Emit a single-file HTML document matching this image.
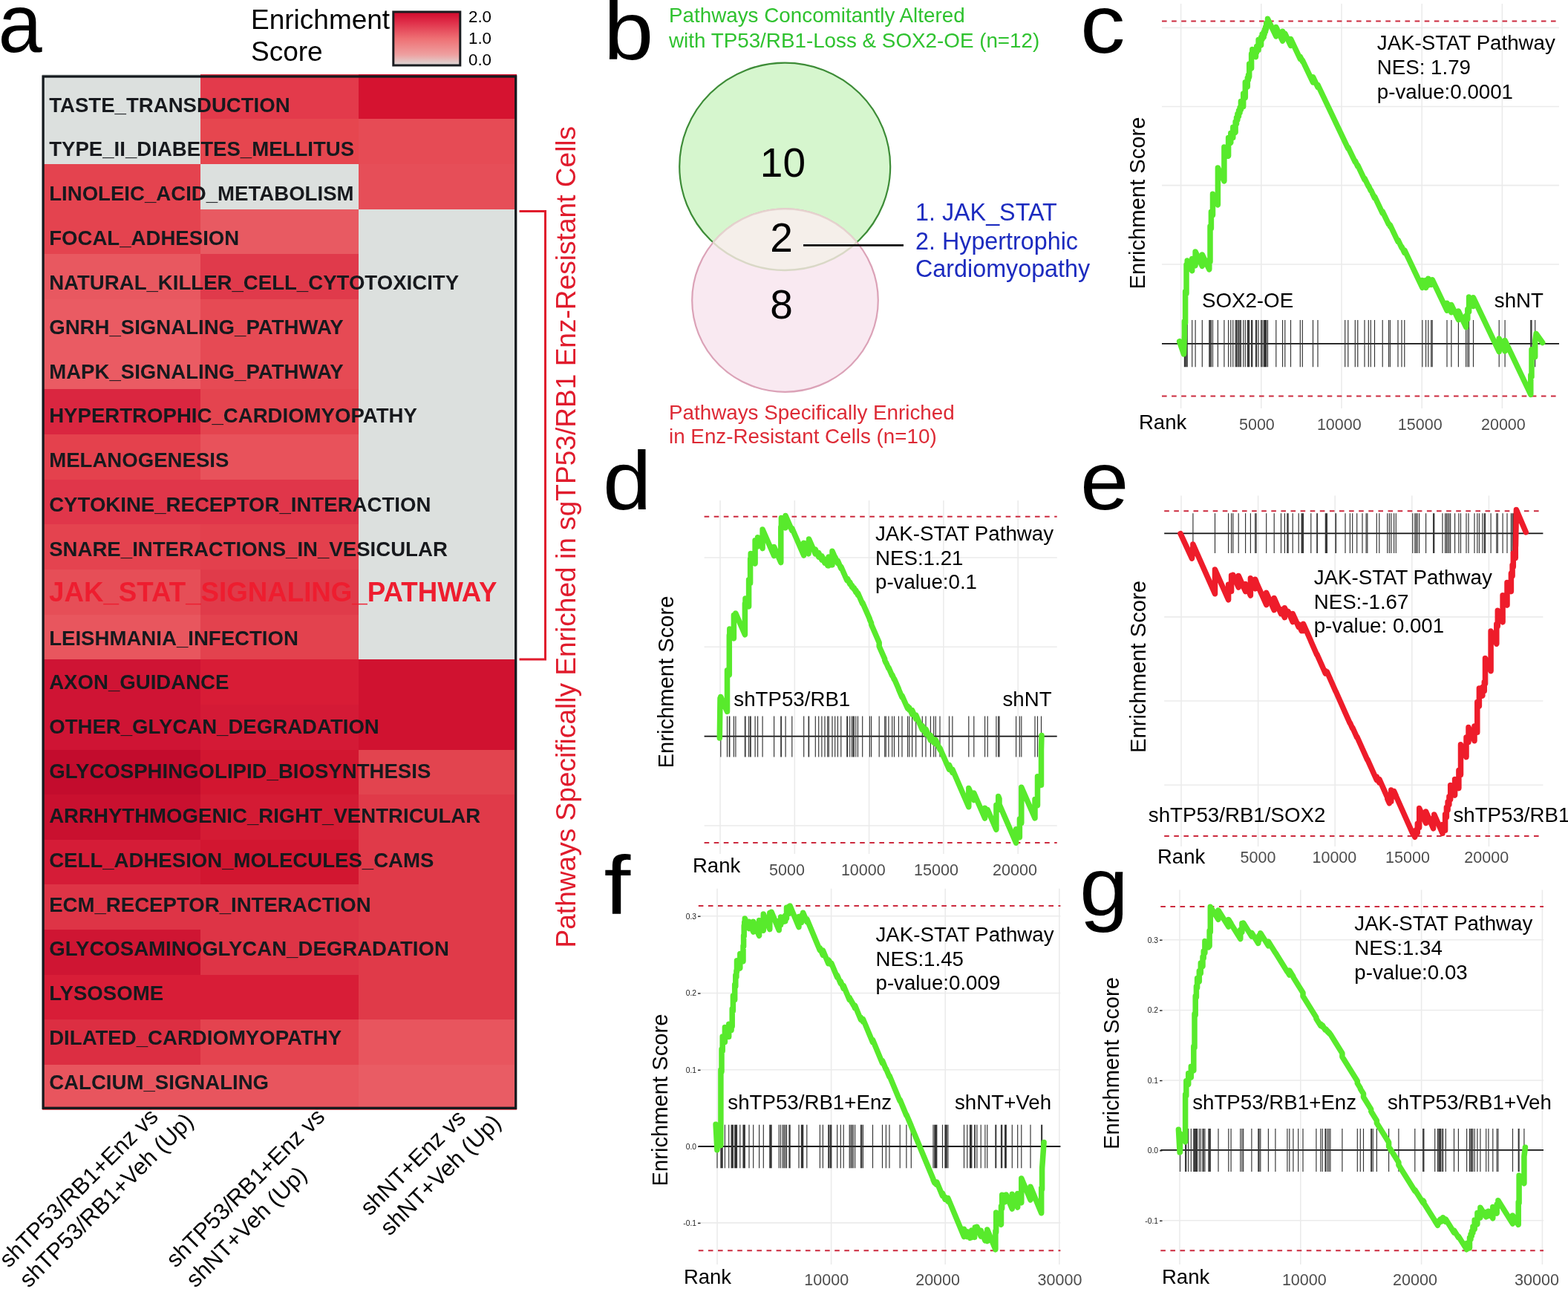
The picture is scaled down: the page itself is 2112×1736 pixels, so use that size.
<!DOCTYPE html>
<html><head><meta charset="utf-8"><title>Figure</title>
<style>
html,body{margin:0;padding:0;background:#fff;overflow:hidden;}
svg{display:block;}
text{font-family:'Liberation Sans', Arial, Helvetica, sans-serif;}
</style></head><body>
<svg width="2112" height="1736" viewBox="0 0 2112 1736">
<rect x="0" y="0" width="2112" height="1736" fill="#ffffff"/>

<g shape-rendering="crispEdges">
<rect x="57.0" y="99.60" width="213.4" height="61.26" fill="#dce0de"/>
<rect x="269.8" y="99.60" width="213.7" height="61.26" fill="#e33a4b"/>
<rect x="482.9" y="99.60" width="213.2" height="61.26" fill="#d51330"/>
<rect x="57.0" y="160.26" width="213.4" height="61.26" fill="#dce0de"/>
<rect x="269.8" y="160.26" width="213.7" height="61.26" fill="#e6464f"/>
<rect x="482.9" y="160.26" width="213.2" height="61.26" fill="#e64b55"/>
<rect x="57.0" y="220.92" width="213.4" height="61.26" fill="#e4434f"/>
<rect x="269.8" y="220.92" width="213.7" height="61.26" fill="#dce0de"/>
<rect x="482.9" y="220.92" width="213.2" height="61.26" fill="#e64e58"/>
<rect x="57.0" y="281.58" width="213.4" height="61.26" fill="#e4434f"/>
<rect x="269.8" y="281.58" width="213.7" height="61.26" fill="#e85a62"/>
<rect x="482.9" y="281.58" width="213.2" height="61.26" fill="#dce0de"/>
<rect x="57.0" y="342.24" width="213.4" height="61.26" fill="#e85860"/>
<rect x="269.8" y="342.24" width="213.7" height="61.26" fill="#e03a4b"/>
<rect x="482.9" y="342.24" width="213.2" height="61.26" fill="#dce0de"/>
<rect x="57.0" y="402.90" width="213.4" height="61.26" fill="#ea5b63"/>
<rect x="269.8" y="402.90" width="213.7" height="61.26" fill="#e64a54"/>
<rect x="482.9" y="402.90" width="213.2" height="61.26" fill="#dce0de"/>
<rect x="57.0" y="463.56" width="213.4" height="61.26" fill="#ea5b63"/>
<rect x="269.8" y="463.56" width="213.7" height="61.26" fill="#e64a54"/>
<rect x="482.9" y="463.56" width="213.2" height="61.26" fill="#dce0de"/>
<rect x="57.0" y="524.22" width="213.4" height="61.26" fill="#da2640"/>
<rect x="269.8" y="524.22" width="213.7" height="61.26" fill="#e4444f"/>
<rect x="482.9" y="524.22" width="213.2" height="61.26" fill="#dce0de"/>
<rect x="57.0" y="584.88" width="213.4" height="61.26" fill="#e4414d"/>
<rect x="269.8" y="584.88" width="213.7" height="61.26" fill="#e8525b"/>
<rect x="482.9" y="584.88" width="213.2" height="61.26" fill="#dce0de"/>
<rect x="57.0" y="645.54" width="213.4" height="61.26" fill="#e0364a"/>
<rect x="269.8" y="645.54" width="213.7" height="61.26" fill="#e0364a"/>
<rect x="482.9" y="645.54" width="213.2" height="61.26" fill="#dce0de"/>
<rect x="57.0" y="706.20" width="213.4" height="61.26" fill="#e4434f"/>
<rect x="269.8" y="706.20" width="213.7" height="61.26" fill="#e3404d"/>
<rect x="482.9" y="706.20" width="213.2" height="61.26" fill="#dce0de"/>
<rect x="57.0" y="766.86" width="213.4" height="61.26" fill="#e64e57"/>
<rect x="269.8" y="766.86" width="213.7" height="61.26" fill="#e03b4a"/>
<rect x="482.9" y="766.86" width="213.2" height="61.26" fill="#dce0de"/>
<rect x="57.0" y="827.52" width="213.4" height="61.26" fill="#e8565e"/>
<rect x="269.8" y="827.52" width="213.7" height="61.26" fill="#e3424e"/>
<rect x="482.9" y="827.52" width="213.2" height="61.26" fill="#dce0de"/>
<rect x="57.0" y="888.18" width="213.4" height="61.26" fill="#cf1434"/>
<rect x="269.8" y="888.18" width="213.7" height="61.26" fill="#d81c36"/>
<rect x="482.9" y="888.18" width="213.2" height="61.26" fill="#d01230"/>
<rect x="57.0" y="948.84" width="213.4" height="61.26" fill="#cf1434"/>
<rect x="269.8" y="948.84" width="213.7" height="61.26" fill="#d41a36"/>
<rect x="482.9" y="948.84" width="213.2" height="61.26" fill="#d01230"/>
<rect x="57.0" y="1009.50" width="213.4" height="61.26" fill="#c30c2d"/>
<rect x="269.8" y="1009.50" width="213.7" height="61.26" fill="#d21630"/>
<rect x="482.9" y="1009.50" width="213.2" height="61.26" fill="#e2444f"/>
<rect x="57.0" y="1070.16" width="213.4" height="61.26" fill="#c9102f"/>
<rect x="269.8" y="1070.16" width="213.7" height="61.26" fill="#d41b34"/>
<rect x="482.9" y="1070.16" width="213.2" height="61.26" fill="#e03a49"/>
<rect x="57.0" y="1130.82" width="213.4" height="61.26" fill="#d51c37"/>
<rect x="269.8" y="1130.82" width="213.7" height="61.26" fill="#d21630"/>
<rect x="482.9" y="1130.82" width="213.2" height="61.26" fill="#e03a49"/>
<rect x="57.0" y="1191.48" width="213.4" height="61.26" fill="#de3446"/>
<rect x="269.8" y="1191.48" width="213.7" height="61.26" fill="#de3446"/>
<rect x="482.9" y="1191.48" width="213.2" height="61.26" fill="#e03a49"/>
<rect x="57.0" y="1252.14" width="213.4" height="61.26" fill="#cf1533"/>
<rect x="269.8" y="1252.14" width="213.7" height="61.26" fill="#de3446"/>
<rect x="482.9" y="1252.14" width="213.2" height="61.26" fill="#e03a49"/>
<rect x="57.0" y="1312.80" width="213.4" height="61.26" fill="#d81d37"/>
<rect x="269.8" y="1312.80" width="213.7" height="61.26" fill="#d81d37"/>
<rect x="482.9" y="1312.80" width="213.2" height="61.26" fill="#e03a49"/>
<rect x="57.0" y="1373.46" width="213.4" height="61.26" fill="#dc2e42"/>
<rect x="269.8" y="1373.46" width="213.7" height="61.26" fill="#e4434f"/>
<rect x="482.9" y="1373.46" width="213.2" height="61.26" fill="#e8555e"/>
<rect x="57.0" y="1434.12" width="213.4" height="61.26" fill="#e8555e"/>
<rect x="269.8" y="1434.12" width="213.7" height="61.26" fill="#e8555e"/>
<rect x="482.9" y="1434.12" width="213.2" height="61.26" fill="#e95c64"/>
</g>
<rect x="58.1" y="103.0" width="636.6" height="1389.3" fill="none" stroke="#151a1e" stroke-width="3.3"/>
<text x="66.2" y="150.6" font-size="27.6" font-weight="bold" fill="#17191d">TASTE_TRANSDUCTION</text>
<text x="66.2" y="210.4" font-size="27.6" font-weight="bold" fill="#17191d">TYPE_II_DIABETES_MELLITUS</text>
<text x="66.2" y="270.3" font-size="27.6" font-weight="bold" fill="#17191d">LINOLEIC_ACID_METABOLISM</text>
<text x="66.2" y="330.1" font-size="27.6" font-weight="bold" fill="#17191d">FOCAL_ADHESION</text>
<text x="66.2" y="389.9" font-size="27.6" font-weight="bold" fill="#17191d">NATURAL_KILLER_CELL_CYTOTOXICITY</text>
<text x="66.2" y="449.8" font-size="27.6" font-weight="bold" fill="#17191d">GNRH_SIGNALING_PATHWAY</text>
<text x="66.2" y="509.6" font-size="27.6" font-weight="bold" fill="#17191d">MAPK_SIGNALING_PATHWAY</text>
<text x="66.2" y="569.4" font-size="27.6" font-weight="bold" fill="#17191d">HYPERTROPHIC_CARDIOMYOPATHY</text>
<text x="66.2" y="629.2" font-size="27.6" font-weight="bold" fill="#17191d">MELANOGENESIS</text>
<text x="66.2" y="689.1" font-size="27.6" font-weight="bold" fill="#17191d">CYTOKINE_RECEPTOR_INTERACTION</text>
<text x="66.2" y="748.9" font-size="27.6" font-weight="bold" fill="#17191d">SNARE_INTERACTIONS_IN_VESICULAR</text>
<text x="66" y="809.7" font-size="36.7" font-weight="bold" fill="#ee1d2f">JAK_STAT_SIGNALING_PATHWAY</text>
<text x="66.2" y="868.6" font-size="27.6" font-weight="bold" fill="#17191d">LEISHMANIA_INFECTION</text>
<text x="66.2" y="928.4" font-size="27.6" font-weight="bold" fill="#17191d">AXON_GUIDANCE</text>
<text x="66.2" y="988.2" font-size="27.6" font-weight="bold" fill="#17191d">OTHER_GLYCAN_DEGRADATION</text>
<text x="66.2" y="1048.0" font-size="27.6" font-weight="bold" fill="#17191d">GLYCOSPHINGOLIPID_BIOSYNTHESIS</text>
<text x="66.2" y="1107.9" font-size="27.6" font-weight="bold" fill="#17191d">ARRHYTHMOGENIC_RIGHT_VENTRICULAR</text>
<text x="66.2" y="1167.7" font-size="27.6" font-weight="bold" fill="#17191d">CELL_ADHESION_MOLECULES_CAMS</text>
<text x="66.2" y="1227.5" font-size="27.6" font-weight="bold" fill="#17191d">ECM_RECEPTOR_INTERACTION</text>
<text x="66.2" y="1287.4" font-size="27.6" font-weight="bold" fill="#17191d">GLYCOSAMINOGLYCAN_DEGRADATION</text>
<text x="66.2" y="1347.2" font-size="27.6" font-weight="bold" fill="#17191d">LYSOSOME</text>
<text x="66.2" y="1407.0" font-size="27.6" font-weight="bold" fill="#17191d">DILATED_CARDIOMYOPATHY</text>
<text x="66.2" y="1466.9" font-size="27.6" font-weight="bold" fill="#17191d">CALCIUM_SIGNALING</text>
<defs><linearGradient id="lg" x1="0" y1="0" x2="0" y2="1">
<stop offset="0" stop-color="#d0092c"/><stop offset="0.2" stop-color="#e0304a"/><stop offset="0.5" stop-color="#ee7074"/>
<stop offset="0.8" stop-color="#eea0a0"/><stop offset="1" stop-color="#dcdad8"/></linearGradient></defs>
<rect x="529.8" y="16" width="90" height="72" fill="url(#lg)" stroke="#1a1c20" stroke-width="3"/>
<text x="338" y="38.6" font-size="37" fill="#000">Enrichment</text>
<text x="338" y="81.6" font-size="37" fill="#000">Score</text>
<text x="631" y="29.8" font-size="22" fill="#000" textLength="31" lengthAdjust="spacingAndGlyphs">2.0</text>
<text x="631" y="58.8" font-size="22" fill="#000" textLength="31" lengthAdjust="spacingAndGlyphs">1.0</text>
<text x="631" y="87.8" font-size="22" fill="#000" textLength="31" lengthAdjust="spacingAndGlyphs">0.0</text>
<text transform="translate(-2.5,70) scale(0.95,1)" x="0" y="0" font-size="112" fill="#000">a</text>
<text transform="translate(813,80) scale(1.08,1)" x="0" y="0" font-size="112" fill="#000">b</text>
<text transform="translate(1455,70.5) scale(1.08,1)" x="0" y="0" font-size="112" fill="#000">c</text>
<text transform="translate(812,686) scale(1.05,1)" x="0" y="0" font-size="112" fill="#000">d</text>
<text transform="translate(1455,686) scale(1.05,1)" x="0" y="0" font-size="112" fill="#000">e</text>
<text transform="translate(813.5,1231) scale(1.15,1)" x="0" y="0" font-size="112" fill="#000">f</text>
<text transform="translate(1454,1233) scale(1.06,1)" x="0" y="0" font-size="112" fill="#000">g</text>
<g transform="translate(11.8,1708.6) rotate(-45)"><text x="0" y="0" font-size="31" fill="#000">shTP53/RB1+Enz vs</text><text x="0" y="38" font-size="31" fill="#000">shTP53/RB1+Veh (Up)</text></g>
<g transform="translate(236.4,1708.6) rotate(-45)"><text x="0" y="0" font-size="31" fill="#000">shTP53/RB1+Enz vs</text><text x="0" y="38" font-size="31" fill="#000">shNT+Veh (Up)</text></g>
<g transform="translate(497.9,1638.6) rotate(-45)"><text x="0" y="0" font-size="31" fill="#000">shNT+Enz vs</text><text x="0" y="38" font-size="31" fill="#000">shNT+Veh (Up)</text></g>
<path d="M699.5 284.5 H734.5 V888 H699.5" fill="none" stroke="#e01b2c" stroke-width="3"/>
<text transform="translate(774.5,1276.5) rotate(-90)" x="0" y="0" font-size="37.1" fill="#e01b2c">Pathways Specifically Enriched in sgTP53/RB1 Enz-Resistant Cells</text>
<defs><clipPath id="cg"><ellipse cx="1057.2" cy="224.3" rx="142" ry="139.7"/></clipPath></defs>
<ellipse cx="1057.2" cy="224.3" rx="142" ry="139.7" fill="#d6f6ce" stroke="#3d8c37" stroke-width="2.2"/>
<ellipse cx="1057.5" cy="404.6" rx="125.3" ry="123.2" fill="#f9e9f1" stroke="#dba2b7" stroke-width="2.2"/>
<ellipse cx="1057.5" cy="404.6" rx="125.3" ry="123.2" fill="#f5efea" clip-path="url(#cg)"/>
<ellipse cx="1057.5" cy="404.6" rx="125.3" ry="123.2" fill="none" stroke="#e6d2cf" stroke-width="2.2" clip-path="url(#cg)"/>
<defs><clipPath id="cp"><ellipse cx="1057.5" cy="404.6" rx="125.3" ry="123.2"/></clipPath></defs>
<ellipse cx="1057.2" cy="224.3" rx="142" ry="139.7" fill="none" stroke="#d9d8c6" stroke-width="2.4" clip-path="url(#cp)"/>
<text x="1054.4" y="237.5" font-size="55" fill="#000" text-anchor="middle">10</text>
<text x="1052.5" y="338.6" font-size="55" fill="#000" text-anchor="middle">2</text>
<text x="1052.5" y="428.6" font-size="55" fill="#000" text-anchor="middle">8</text>
<line x1="1082" y1="330.4" x2="1217" y2="330.4" stroke="#111" stroke-width="2.6"/>
<text x="1233" y="297.1" font-size="32.3" fill="#1c2bbf">1. JAK_STAT</text>
<text x="1233" y="335.7" font-size="32.3" fill="#1c2bbf">2. Hypertrophic</text>
<text x="1233" y="373" font-size="32.3" fill="#1c2bbf">Cardiomyopathy</text>
<text x="901" y="30.4" font-size="27.8" fill="#2fc22f">Pathways Concomitantly Altered</text>
<text x="901" y="64.3" font-size="27.8" fill="#2fc22f">with TP53/RB1-Loss &amp; SOX2-OE (n=12)</text>
<text x="901" y="565" font-size="27.8" fill="#dd2a35">Pathways Specifically Enriched</text>
<text x="901" y="597" font-size="27.8" fill="#dd2a35">in Enz-Resistant Cells (n=10)</text>
<line x1="1590.6" y1="5" x2="1590.6" y2="550" stroke="#ebebeb" stroke-width="1.6"/>
<line x1="1698.8" y1="5" x2="1698.8" y2="550" stroke="#ebebeb" stroke-width="1.6"/>
<line x1="1807.0" y1="5" x2="1807.0" y2="550" stroke="#ebebeb" stroke-width="1.6"/>
<line x1="1915.2" y1="5" x2="1915.2" y2="550" stroke="#ebebeb" stroke-width="1.6"/>
<line x1="2023.4" y1="5" x2="2023.4" y2="550" stroke="#ebebeb" stroke-width="1.6"/>
<line x1="1565" y1="37.4" x2="2100" y2="37.4" stroke="#ebebeb" stroke-width="1.6"/>
<line x1="1565" y1="143.5" x2="2100" y2="143.5" stroke="#ebebeb" stroke-width="1.6"/>
<line x1="1565" y1="249.6" x2="2100" y2="249.6" stroke="#ebebeb" stroke-width="1.6"/>
<line x1="1565" y1="356.0" x2="2100" y2="356.0" stroke="#ebebeb" stroke-width="1.6"/>
<line x1="1565" y1="28.6" x2="2100" y2="28.6" stroke="#cc2a3e" stroke-width="2" stroke-dasharray="6.6 6.5"/>
<line x1="1565" y1="533.4" x2="2100" y2="533.4" stroke="#cc2a3e" stroke-width="2" stroke-dasharray="6.6 6.5"/>
<line x1="1565" y1="462.9" x2="2100" y2="462.9" stroke="#111" stroke-width="1.8"/>
<path d="M1595.4 430.9V494.2M1596.6 430.9V494.2M1598.0 430.9V494.2M1599.2 430.9V494.2M1605.7 430.9V494.2M1610.1 430.9V494.2M1619.3 430.9V494.2M1628.8 430.9V494.2M1630.0 430.9V494.2M1631.4 430.9V494.2M1633.5 430.9V494.2M1640.4 430.9V494.2M1648.9 430.9V494.2M1654.6 430.9V494.2M1657.8 430.9V494.2M1660.8 430.9V494.2M1664.1 430.9V494.2M1665.5 430.9V494.2M1666.9 430.9V494.2M1668.5 430.9V494.2M1670.0 430.9V494.2M1671.4 430.9V494.2M1674.7 430.9V494.2M1677.3 430.9V494.2M1680.3 430.9V494.2M1681.5 430.9V494.2M1682.7 430.9V494.2M1685.6 430.9V494.2M1686.8 430.9V494.2M1691.5 430.9V494.2M1692.7 430.9V494.2M1695.1 430.9V494.2M1698.6 430.9V494.2M1700.1 430.9V494.2M1702.2 430.9V494.2M1703.4 430.9V494.2M1704.6 430.9V494.2M1705.7 430.9V494.2M1707.5 430.9V494.2M1718.8 430.9V494.2M1727.6 430.9V494.2M1730.8 430.9V494.2M1738.5 430.9V494.2M1751.3 430.9V494.2M1754.3 430.9V494.2M1768.5 430.9V494.2M1775.0 430.9V494.2M1811.7 430.9V494.2M1815.8 430.9V494.2M1825.3 430.9V494.2M1828.8 430.9V494.2M1838.0 430.9V494.2M1843.3 430.9V494.2M1846.3 430.9V494.2M1851.5 430.9V494.2M1862.2 430.9V494.2M1870.5 430.9V494.2M1872.4 430.9V494.2M1883.0 430.9V494.2M1888.0 430.9V494.2M1891.8 430.9V494.2M1915.8 430.9V494.2M1920.6 430.9V494.2M1923.8 430.9V494.2M1927.7 430.9V494.2M1929.2 430.9V494.2M1949.0 430.9V494.2M1954.9 430.9V494.2M1964.4 430.9V494.2M1974.6 430.9V494.2M1976.8 430.9V494.2M1978.6 430.9V494.2M1984.5 430.9V494.2M2019.2 430.9V494.2M2027.1 430.9V494.2M2061.8 430.9V494.2M2063.0 430.9V494.2M2067.7 430.9V494.2" stroke="#333" stroke-width="1.15" fill="none"/>
<path d="M1588.6 459.7 L1594.5 477.0 L1595.4 451.0 L1595.4 432.7 L1596.6 435.2 L1596.6 392.6 L1598.0 395.6 L1598.0 356.4 L1599.2 358.9 L1599.2 351.0 L1605.7 364.7 L1605.7 348.4 L1610.1 357.6 L1610.1 338.9 L1619.3 358.3 L1619.3 342.9 L1628.8 362.8 L1628.8 350.2 L1630.0 352.7 L1630.0 304.8 L1631.4 307.8 L1631.4 285.3 L1633.5 289.8 L1633.5 261.3 L1640.4 275.8 L1640.4 225.9 L1648.9 243.8 L1648.9 198.1 L1654.6 210.1 L1654.6 185.6 L1657.8 192.3 L1657.8 179.2 L1660.8 185.4 L1660.8 171.3 L1664.1 178.3 L1664.1 164.0 L1665.5 167.0 L1665.5 158.4 L1666.9 161.4 L1666.9 153.6 L1668.5 156.8 L1668.5 149.0 L1670.0 152.2 L1670.0 144.9 L1671.4 147.9 L1671.4 136.6 L1674.7 143.6 L1674.7 126.1 L1677.3 131.6 L1677.3 110.7 L1680.3 116.9 L1680.3 104.9 L1681.5 107.4 L1681.5 101.0 L1682.7 103.5 L1682.7 86.0 L1685.6 92.2 L1685.6 72.5 L1686.8 75.0 L1686.8 66.5 L1691.5 76.5 L1691.5 67.9 L1692.7 70.4 L1692.7 62.5 L1695.1 67.4 L1695.1 53.5 L1698.6 60.9 L1698.6 50.2 L1700.1 53.1 L1700.1 45.9 L1702.2 50.3 L1702.2 43.3 L1703.4 45.8 L1703.4 39.9 L1704.6 42.4 L1704.6 36.4 L1705.7 38.8 L1705.7 31.3 L1707.5 35.0 L1707.5 25.3 L1718.8 48.9 L1718.8 36.6 L1727.6 55.2 L1727.6 42.2 L1730.8 48.9 L1730.8 45.2 L1738.5 61.4 L1738.5 52.4 L1751.3 79.3 L1751.3 76.3 L1754.3 82.5 L1754.3 81.1 L1768.5 110.9 L1768.5 103.7 L1775.0 117.3 L1775.0 114.3 L1811.7 191.4 L1811.7 191.3 L1815.8 200.0 L1815.8 198.4 L1825.3 218.2 L1825.3 216.7 L1828.8 224.1 L1828.8 222.6 L1838.0 242.0 L1838.0 240.2 L1843.3 251.2 L1843.3 250.2 L1846.3 256.6 L1846.3 255.7 L1851.5 266.6 L1851.5 264.7 L1862.2 287.1 L1862.2 284.8 L1870.5 302.2 L1870.5 301.0 L1872.4 305.0 L1872.4 303.1 L1883.0 325.5 L1883.0 323.2 L1888.0 333.6 L1888.0 332.3 L1891.8 340.3 L1891.8 336.9 L1915.8 387.3 L1915.8 377.5 L1920.6 387.4 L1920.6 377.4 L1923.8 384.1 L1923.8 375.2 L1927.7 383.4 L1927.7 378.7 L1929.2 381.9 L1929.2 376.7 L1949.0 418.2 L1949.0 408.2 L1954.9 420.6 L1954.9 410.6 L1964.4 430.5 L1964.4 418.9 L1974.6 440.5 L1974.6 425.4 L1976.8 429.9 L1976.8 416.5 L1978.6 420.2 L1978.6 400.0 L1984.5 412.4 L1984.5 400.8 L2019.2 473.6 L2019.2 456.1 L2027.1 472.8 L2027.1 458.6 L2061.8 531.4 L2061.8 505.3 L2063.0 507.7 L2063.0 470.8 L2067.7 480.7 L2067.7 458.8 L2069.1 449.4 L2077.7 461.5" stroke="#58ea2c" stroke-width="7.5" fill="none" stroke-linejoin="round" stroke-linecap="round"/>
<line x1="970.0" y1="674" x2="970.0" y2="1150" stroke="#ebebeb" stroke-width="1.6"/>
<line x1="1070.3" y1="674" x2="1070.3" y2="1150" stroke="#ebebeb" stroke-width="1.6"/>
<line x1="1170.6" y1="674" x2="1170.6" y2="1150" stroke="#ebebeb" stroke-width="1.6"/>
<line x1="1270.9" y1="674" x2="1270.9" y2="1150" stroke="#ebebeb" stroke-width="1.6"/>
<line x1="1371.2" y1="674" x2="1371.2" y2="1150" stroke="#ebebeb" stroke-width="1.6"/>
<line x1="948.6" y1="751.0" x2="1423.7" y2="751.0" stroke="#ebebeb" stroke-width="1.6"/>
<line x1="948.6" y1="871.2" x2="1423.7" y2="871.2" stroke="#ebebeb" stroke-width="1.6"/>
<line x1="948.6" y1="1112.0" x2="1423.7" y2="1112.0" stroke="#ebebeb" stroke-width="1.6"/>
<line x1="948.6" y1="695.7" x2="1423.7" y2="695.7" stroke="#cc2a3e" stroke-width="2" stroke-dasharray="6.6 6.5"/>
<line x1="948.6" y1="1134.9" x2="1423.7" y2="1134.9" stroke="#cc2a3e" stroke-width="2" stroke-dasharray="6.6 6.5"/>
<line x1="948.6" y1="991.7" x2="1423.7" y2="991.7" stroke="#111" stroke-width="1.8"/>
<path d="M970.8 964.5V1019.5M979.5 964.5V1019.5M982.3 964.5V1019.5M982.8 964.5V1019.5M988.4 964.5V1019.5M990.9 964.5V1019.5M1003.4 964.5V1019.5M1004.0 964.5V1019.5M1008.6 964.5V1019.5M1010.6 964.5V1019.5M1011.2 964.5V1019.5M1017.1 964.5V1019.5M1020.6 964.5V1019.5M1027.1 964.5V1019.5M1042.6 964.5V1019.5M1051.8 964.5V1019.5M1052.4 964.5V1019.5M1058.1 964.5V1019.5M1066.8 964.5V1019.5M1082.7 964.5V1019.5M1089.1 964.5V1019.5M1089.6 964.5V1019.5M1098.3 964.5V1019.5M1102.7 964.5V1019.5M1106.9 964.5V1019.5M1111.0 964.5V1019.5M1114.7 964.5V1019.5M1116.3 964.5V1019.5M1121.0 964.5V1019.5M1124.7 964.5V1019.5M1128.4 964.5V1019.5M1132.8 964.5V1019.5M1140.8 964.5V1019.5M1141.6 964.5V1019.5M1144.7 964.5V1019.5M1147.5 964.5V1019.5M1149.2 964.5V1019.5M1150.3 964.5V1019.5M1152.8 964.5V1019.5M1155.5 964.5V1019.5M1161.7 964.5V1019.5M1171.4 964.5V1019.5M1173.6 964.5V1019.5M1184.2 964.5V1019.5M1191.7 964.5V1019.5M1193.3 964.5V1019.5M1196.9 964.5V1019.5M1201.7 964.5V1019.5M1204.5 964.5V1019.5M1210.4 964.5V1019.5M1215.0 964.5V1019.5M1222.5 964.5V1019.5M1224.7 964.5V1019.5M1228.6 964.5V1019.5M1233.7 964.5V1019.5M1242.3 964.5V1019.5M1247.0 964.5V1019.5M1253.4 964.5V1019.5M1257.7 964.5V1019.5M1260.3 964.5V1019.5M1266.0 964.5V1019.5M1278.5 964.5V1019.5M1282.9 964.5V1019.5M1304.8 964.5V1019.5M1311.8 964.5V1019.5M1326.6 964.5V1019.5M1330.2 964.5V1019.5M1341.9 964.5V1019.5M1344.7 964.5V1019.5M1346.0 964.5V1019.5M1368.6 964.5V1019.5M1373.4 964.5V1019.5M1375.8 964.5V1019.5M1394.0 964.5V1019.5M1397.5 964.5V1019.5M1402.5 964.5V1019.5" stroke="#333" stroke-width="1.15" fill="none"/>
<path d="M969.3 993.9 L970.0 940.4 L970.8 941.9 L970.8 938.5 L979.5 958.4 L979.5 902.7 L982.3 909.1 L982.3 855.4 L982.8 856.7 L982.8 847.0 L988.4 859.8 L988.4 828.4 L990.9 834.3 L990.9 826.1 L1003.4 854.8 L1003.4 812.7 L1004.0 814.0 L1004.0 806.1 L1008.6 816.9 L1008.6 780.8 L1010.6 785.4 L1010.6 752.8 L1011.2 754.1 L1011.2 745.5 L1017.1 759.1 L1017.1 727.8 L1020.6 736.0 L1020.6 723.7 L1027.1 738.5 L1027.1 713.0 L1042.6 748.6 L1042.6 736.4 L1051.8 757.6 L1051.8 709.7 L1052.4 711.0 L1052.4 697.6 L1058.1 710.9 L1058.1 694.4 L1066.8 714.4 L1066.8 711.4 L1082.7 748.0 L1082.7 731.2 L1089.1 745.8 L1089.1 729.2 L1089.6 730.4 L1089.6 725.9 L1098.3 745.9 L1098.3 740.0 L1102.7 750.0 L1102.7 744.4 L1106.9 754.1 L1106.9 748.7 L1111.0 758.2 L1111.0 753.1 L1114.7 761.6 L1114.7 758.1 L1116.3 761.9 L1116.3 750.1 L1121.0 760.9 L1121.0 742.3 L1124.7 750.7 L1124.7 750.1 L1128.4 758.5 L1128.4 755.2 L1132.8 765.5 L1132.8 763.2 L1140.8 781.6 L1140.8 779.2 L1141.6 781.0 L1141.6 779.4 L1144.7 786.6 L1144.7 784.1 L1147.5 790.5 L1147.5 788.4 L1149.2 792.2 L1149.2 790.9 L1150.3 793.4 L1150.3 791.7 L1152.8 797.6 L1152.8 795.0 L1155.5 801.2 L1155.5 798.7 L1161.7 813.0 L1161.7 811.4 L1171.4 833.6 L1171.4 834.2 L1173.6 839.3 L1173.6 841.1 L1184.2 865.4 L1184.2 870.5 L1191.7 887.6 L1191.7 889.0 L1193.3 892.8 L1193.3 892.0 L1196.9 900.2 L1196.9 899.0 L1201.7 910.0 L1201.7 908.8 L1204.5 915.2 L1204.5 914.3 L1210.4 927.8 L1210.4 928.3 L1215.0 939.1 L1215.0 936.9 L1222.5 954.1 L1222.5 951.0 L1224.7 956.1 L1224.7 953.1 L1228.6 962.0 L1228.6 956.4 L1233.7 968.2 L1233.7 963.1 L1242.3 982.8 L1242.3 977.5 L1247.0 988.3 L1247.0 982.0 L1253.4 996.9 L1253.4 990.2 L1257.7 999.9 L1257.7 995.5 L1260.3 1001.7 L1260.3 996.4 L1266.0 1009.5 L1266.0 1007.6 L1278.5 1036.3 L1278.5 1030.3 L1282.9 1040.5 L1282.9 1036.2 L1304.8 1086.7 L1304.8 1061.4 L1311.8 1077.6 L1311.8 1068.1 L1326.6 1102.1 L1326.6 1088.2 L1330.2 1096.4 L1330.2 1090.5 L1341.9 1117.3 L1341.9 1084.2 L1344.7 1090.6 L1344.7 1072.5 L1346.0 1075.6 L1346.0 1083.2 L1368.6 1135.2 L1368.6 1116.7 L1373.4 1127.7 L1373.4 1102.9 L1375.8 1108.5 L1375.8 1060.2 L1394.0 1101.9 L1394.0 1076.5 L1397.5 1084.7 L1397.5 1045.8 L1402.5 1057.4 L1402.5 1009.9 L1403.0 990.5" stroke="#58ea2c" stroke-width="7.5" fill="none" stroke-linejoin="round" stroke-linecap="round"/>
<line x1="1591.0" y1="667.4" x2="1591.0" y2="1140" stroke="#ebebeb" stroke-width="1.6"/>
<line x1="1694.6" y1="667.4" x2="1694.6" y2="1140" stroke="#ebebeb" stroke-width="1.6"/>
<line x1="1798.2" y1="667.4" x2="1798.2" y2="1140" stroke="#ebebeb" stroke-width="1.6"/>
<line x1="1901.8" y1="667.4" x2="1901.8" y2="1140" stroke="#ebebeb" stroke-width="1.6"/>
<line x1="2005.4" y1="667.4" x2="2005.4" y2="1140" stroke="#ebebeb" stroke-width="1.6"/>
<line x1="1568.2" y1="830.9" x2="2078.4" y2="830.9" stroke="#ebebeb" stroke-width="1.6"/>
<line x1="1568.2" y1="944.0" x2="2078.4" y2="944.0" stroke="#ebebeb" stroke-width="1.6"/>
<line x1="1568.2" y1="1057.3" x2="2078.4" y2="1057.3" stroke="#ebebeb" stroke-width="1.6"/>
<line x1="1568.2" y1="688.3" x2="2078.4" y2="688.3" stroke="#cc2a3e" stroke-width="2" stroke-dasharray="6.6 6.5"/>
<line x1="1568.2" y1="1126.0" x2="2078.4" y2="1126.0" stroke="#cc2a3e" stroke-width="2" stroke-dasharray="6.6 6.5"/>
<line x1="1568.2" y1="718.3" x2="2078.4" y2="718.3" stroke="#111" stroke-width="1.8"/>
<path d="M1606.9 691.2V745.1M1636.5 691.2V745.1M1654.6 691.2V745.1M1658.6 691.2V745.1M1660.8 691.2V745.1M1668.2 691.2V745.1M1677.6 691.2V745.1M1684.4 691.2V745.1M1690.7 691.2V745.1M1692.1 691.2V745.1M1705.7 691.2V745.1M1716.2 691.2V745.1M1725.5 691.2V745.1M1730.4 691.2V745.1M1733.9 691.2V745.1M1735.1 691.2V745.1M1741.2 691.2V745.1M1749.2 691.2V745.1M1753.1 691.2V745.1M1754.3 691.2V745.1M1755.5 691.2V745.1M1765.8 691.2V745.1M1773.8 691.2V745.1M1774.4 691.2V745.1M1785.3 691.2V745.1M1786.2 691.2V745.1M1787.4 691.2V745.1M1799.0 691.2V745.1M1799.5 691.2V745.1M1812.0 691.2V745.1M1818.4 691.2V745.1M1821.7 691.2V745.1M1827.7 691.2V745.1M1835.0 691.2V745.1M1840.1 691.2V745.1M1841.8 691.2V745.1M1854.3 691.2V745.1M1857.8 691.2V745.1M1868.8 691.2V745.1M1871.4 691.2V745.1M1873.8 691.2V745.1M1877.6 691.2V745.1M1880.3 691.2V745.1M1902.8 691.2V745.1M1905.8 691.2V745.1M1907.5 691.2V745.1M1909.3 691.2V745.1M1911.7 691.2V745.1M1920.6 691.2V745.1M1930.6 691.2V745.1M1931.8 691.2V745.1M1943.0 691.2V745.1M1946.6 691.2V745.1M1948.4 691.2V745.1M1950.1 691.2V745.1M1951.9 691.2V745.1M1953.7 691.2V745.1M1959.6 691.2V745.1M1964.9 691.2V745.1M1967.5 691.2V745.1M1975.0 691.2V745.1M1978.0 691.2V745.1M1986.0 691.2V745.1M1989.8 691.2V745.1M1992.4 691.2V745.1M1996.9 691.2V745.1M1999.3 691.2V745.1M2000.5 691.2V745.1M2008.1 691.2V745.1M2015.8 691.2V745.1M2017.3 691.2V745.1M2024.1 691.2V745.1M2030.0 691.2V745.1M2035.4 691.2V745.1M2037.1 691.2V745.1M2038.3 691.2V745.1M2041.3 691.2V745.1" stroke="#333" stroke-width="1.15" fill="none"/>
<path d="M1590.0 718.6 L1605.5 752.1 L1606.9 735.9 L1606.9 733.1 L1636.5 799.7 L1636.5 767.1 L1654.6 807.8 L1654.6 787.3 L1658.6 796.4 L1658.6 775.1 L1660.8 779.9 L1660.8 774.2 L1668.2 791.0 L1668.2 775.4 L1677.6 796.5 L1677.6 786.6 L1684.4 802.1 L1684.4 778.7 L1690.7 792.8 L1690.7 780.2 L1692.1 783.4 L1692.1 783.9 L1705.7 814.5 L1705.7 798.2 L1716.2 821.6 L1716.2 805.6 L1725.5 826.7 L1725.5 820.8 L1730.4 831.7 L1730.4 818.8 L1733.9 826.7 L1733.9 823.1 L1735.1 825.7 L1735.1 823.6 L1741.2 837.5 L1741.2 826.5 L1749.2 844.4 L1749.2 840.8 L1753.1 849.6 L1753.1 846.1 L1754.3 848.7 L1754.3 846.8 L1755.5 849.5 L1755.5 840.3 L1765.8 863.5 L1765.8 863.8 L1773.8 881.9 L1773.8 881.1 L1774.4 882.5 L1774.4 882.5 L1785.3 907.0 L1785.3 903.6 L1786.2 905.7 L1786.2 904.4 L1787.4 907.0 L1787.4 904.8 L1799.0 930.9 L1799.0 930.7 L1799.5 931.8 L1799.5 931.8 L1812.0 960.0 L1812.0 959.9 L1818.4 974.3 L1818.4 973.5 L1821.7 981.0 L1821.7 979.8 L1827.7 993.1 L1827.7 991.9 L1835.0 1008.3 L1835.0 1008.2 L1840.1 1019.6 L1840.1 1019.6 L1841.8 1023.6 L1841.8 1022.6 L1854.3 1050.5 L1854.3 1046.1 L1857.8 1054.1 L1857.8 1049.4 L1868.8 1074.1 L1868.8 1076.0 L1871.4 1081.8 L1871.4 1074.0 L1873.8 1079.4 L1873.8 1064.0 L1877.6 1072.5 L1877.6 1065.5 L1880.3 1071.6 L1880.3 1071.9 L1902.8 1122.5 L1902.8 1120.6 L1905.8 1127.3 L1905.8 1119.6 L1907.5 1123.6 L1907.5 1117.8 L1909.3 1121.8 L1909.3 1109.3 L1911.7 1114.6 L1911.7 1088.5 L1920.6 1108.5 L1920.6 1093.1 L1930.6 1115.8 L1930.6 1101.9 L1931.8 1104.5 L1931.8 1097.1 L1943.0 1122.4 L1943.0 1110.4 L1946.6 1118.4 L1946.6 1096.8 L1948.4 1100.8 L1948.4 1087.2 L1950.1 1091.2 L1950.1 1079.9 L1951.9 1083.9 L1951.9 1072.8 L1953.7 1076.8 L1953.7 1057.6 L1959.6 1071.0 L1959.6 1049.6 L1964.9 1061.6 L1964.9 1037.6 L1967.5 1043.5 L1967.5 1002.8 L1975.0 1019.6 L1975.0 992.9 L1978.0 999.6 L1978.0 979.5 L1986.0 997.7 L1986.0 977.9 L1989.8 986.4 L1989.8 945.5 L1992.4 951.3 L1992.4 926.9 L1996.9 937.0 L1996.9 925.4 L1999.3 930.7 L1999.3 918.4 L2000.5 921.1 L2000.5 886.4 L2008.1 903.7 L2008.1 849.9 L2015.8 867.2 L2015.8 840.4 L2017.3 843.6 L2017.3 822.3 L2024.1 837.8 L2024.1 801.8 L2030.0 815.1 L2030.0 784.5 L2035.4 796.5 L2035.4 772.1 L2037.1 776.1 L2037.1 760.9 L2038.3 763.5 L2038.3 745.0 L2041.3 751.6 L2041.3 736.8 L2041.5 735.0 L2042.4 686.5 L2055.3 716.8" stroke="#ee1c2a" stroke-width="7.5" fill="none" stroke-linejoin="round" stroke-linecap="round"/>
<line x1="966.0" y1="1196.7" x2="966.0" y2="1703" stroke="#ebebeb" stroke-width="1.6"/>
<line x1="1119.6" y1="1196.7" x2="1119.6" y2="1703" stroke="#ebebeb" stroke-width="1.6"/>
<line x1="1273.2" y1="1196.7" x2="1273.2" y2="1703" stroke="#ebebeb" stroke-width="1.6"/>
<line x1="1426.8" y1="1196.7" x2="1426.8" y2="1703" stroke="#ebebeb" stroke-width="1.6"/>
<line x1="940.8" y1="1233.7" x2="1428.4" y2="1233.7" stroke="#ebebeb" stroke-width="1.6"/>
<line x1="940.8" y1="1337.5" x2="1428.4" y2="1337.5" stroke="#ebebeb" stroke-width="1.6"/>
<line x1="940.8" y1="1440.8" x2="1428.4" y2="1440.8" stroke="#ebebeb" stroke-width="1.6"/>
<line x1="940.8" y1="1646.9" x2="1428.4" y2="1646.9" stroke="#ebebeb" stroke-width="1.6"/>
<line x1="940.8" y1="1220.0" x2="1428.4" y2="1220.0" stroke="#cc2a3e" stroke-width="2" stroke-dasharray="6.6 6.5"/>
<line x1="940.8" y1="1684.3" x2="1428.4" y2="1684.3" stroke="#cc2a3e" stroke-width="2" stroke-dasharray="6.6 6.5"/>
<line x1="940.8" y1="1544.0" x2="1428.4" y2="1544.0" stroke="#111" stroke-width="1.8"/>
<path d="M966.0 1514.7V1573.2M970.9 1514.7V1573.2M972.0 1514.7V1573.2M973.2 1514.7V1573.2M976.4 1514.7V1573.2M981.7 1514.7V1573.2M985.1 1514.7V1573.2M986.2 1514.7V1573.2M987.4 1514.7V1573.2M989.7 1514.7V1573.2M990.8 1514.7V1573.2M991.9 1514.7V1573.2M992.5 1514.7V1573.2M996.8 1514.7V1573.2M1001.0 1514.7V1573.2M1001.6 1514.7V1573.2M1002.2 1514.7V1573.2M1002.7 1514.7V1573.2M1003.3 1514.7V1573.2M1009.0 1514.7V1573.2M1014.7 1514.7V1573.2M1022.6 1514.7V1573.2M1028.3 1514.7V1573.2M1036.8 1514.7V1573.2M1038.0 1514.7V1573.2M1039.1 1514.7V1573.2M1049.3 1514.7V1573.2M1051.6 1514.7V1573.2M1054.4 1514.7V1573.2M1056.1 1514.7V1573.2M1057.8 1514.7V1573.2M1059.5 1514.7V1573.2M1063.0 1514.7V1573.2M1064.1 1514.7V1573.2M1076.0 1514.7V1573.2M1079.4 1514.7V1573.2M1080.6 1514.7V1573.2M1081.7 1514.7V1573.2M1086.8 1514.7V1573.2M1104.4 1514.7V1573.2M1108.4 1514.7V1573.2M1115.8 1514.7V1573.2M1116.9 1514.7V1573.2M1118.6 1514.7V1573.2M1119.8 1514.7V1573.2M1127.7 1514.7V1573.2M1132.3 1514.7V1573.2M1136.2 1514.7V1573.2M1144.2 1514.7V1573.2M1145.9 1514.7V1573.2M1147.6 1514.7V1573.2M1149.3 1514.7V1573.2M1151.6 1514.7V1573.2M1159.5 1514.7V1573.2M1160.7 1514.7V1573.2M1162.4 1514.7V1573.2M1175.5 1514.7V1573.2M1188.5 1514.7V1573.2M1193.4 1514.7V1573.2M1198.0 1514.7V1573.2M1212.2 1514.7V1573.2M1220.9 1514.7V1573.2M1227.3 1514.7V1573.2M1257.0 1514.7V1573.2M1258.8 1514.7V1573.2M1259.9 1514.7V1573.2M1261.0 1514.7V1573.2M1261.8 1514.7V1573.2M1269.5 1514.7V1573.2M1273.0 1514.7V1573.2M1274.1 1514.7V1573.2M1275.2 1514.7V1573.2M1276.9 1514.7V1573.2M1298.5 1514.7V1573.2M1302.8 1514.7V1573.2M1306.5 1514.7V1573.2M1307.6 1514.7V1573.2M1308.8 1514.7V1573.2M1312.7 1514.7V1573.2M1313.3 1514.7V1573.2M1315.9 1514.7V1573.2M1321.2 1514.7V1573.2M1326.9 1514.7V1573.2M1329.8 1514.7V1573.2M1340.9 1514.7V1573.2M1341.7 1514.7V1573.2M1348.5 1514.7V1573.2M1349.7 1514.7V1573.2M1353.6 1514.7V1573.2M1354.5 1514.7V1573.2M1355.3 1514.7V1573.2M1363.3 1514.7V1573.2M1370.7 1514.7V1573.2M1375.8 1514.7V1573.2M1388.0 1514.7V1573.2M1402.7 1514.7V1573.2M1403.6 1514.7V1573.2" stroke="#333" stroke-width="1.15" fill="none"/>
<path d="M964.1 1514.3 L965.9 1548.7 L966.0 1548.5 L966.0 1530.9 L970.9 1542.6 L970.9 1440.8 L972.0 1443.5 L972.0 1412.9 L973.2 1415.7 L973.2 1396.0 L976.4 1403.6 L976.4 1383.6 L981.7 1396.4 L981.7 1379.3 L985.1 1387.5 L985.1 1379.7 L986.2 1382.4 L986.2 1358.8 L987.4 1361.5 L987.4 1341.1 L989.7 1346.6 L989.7 1326.0 L990.8 1328.7 L990.8 1313.5 L991.9 1316.3 L991.9 1307.6 L992.5 1309.0 L992.5 1293.7 L996.8 1304.1 L996.8 1284.6 L1001.0 1294.7 L1001.0 1273.6 L1001.6 1275.0 L1001.6 1260.0 L1002.2 1261.3 L1002.2 1246.8 L1002.7 1248.1 L1002.7 1242.1 L1003.3 1243.5 L1003.3 1237.0 L1009.0 1250.6 L1009.0 1241.3 L1014.7 1255.0 L1014.7 1241.2 L1022.6 1260.3 L1022.6 1239.5 L1028.3 1253.2 L1028.3 1231.0 L1036.8 1251.5 L1036.8 1229.4 L1038.0 1232.1 L1038.0 1232.6 L1039.1 1235.4 L1039.1 1228.2 L1049.3 1252.7 L1049.3 1240.3 L1051.6 1245.8 L1051.6 1235.1 L1054.4 1241.9 L1054.4 1235.3 L1056.1 1239.4 L1056.1 1236.8 L1057.8 1240.9 L1057.8 1233.0 L1059.5 1237.1 L1059.5 1222.3 L1063.0 1230.4 L1063.0 1220.7 L1064.1 1223.4 L1064.1 1219.9 L1076.0 1248.6 L1076.0 1234.4 L1079.4 1242.6 L1079.4 1233.7 L1080.6 1236.5 L1080.6 1232.1 L1081.7 1234.8 L1081.7 1229.3 L1086.8 1241.5 L1086.8 1237.7 L1104.4 1279.9 L1104.4 1276.8 L1108.4 1286.4 L1108.4 1280.0 L1115.8 1297.7 L1115.8 1292.8 L1116.9 1295.6 L1116.9 1293.9 L1118.6 1298.0 L1118.6 1296.5 L1119.8 1299.2 L1119.8 1297.2 L1127.7 1316.3 L1127.7 1313.6 L1132.3 1324.5 L1132.3 1321.8 L1136.2 1331.4 L1136.2 1327.5 L1144.2 1346.6 L1144.2 1343.5 L1145.9 1347.5 L1145.9 1346.4 L1147.6 1350.5 L1147.6 1349.4 L1149.3 1353.5 L1149.3 1352.2 L1151.6 1357.7 L1151.6 1354.3 L1159.5 1373.4 L1159.5 1370.2 L1160.7 1373.0 L1160.7 1371.9 L1162.4 1376.0 L1162.4 1372.4 L1175.5 1403.7 L1175.5 1400.5 L1188.5 1431.9 L1188.5 1428.5 L1193.4 1440.3 L1193.4 1439.3 L1198.0 1450.2 L1198.0 1448.8 L1212.2 1482.9 L1212.2 1481.2 L1220.9 1502.2 L1220.9 1501.1 L1227.3 1516.3 L1227.3 1516.5 L1257.0 1588.0 L1257.0 1589.0 L1258.8 1593.1 L1258.8 1591.1 L1259.9 1593.8 L1259.9 1592.2 L1261.0 1595.0 L1261.0 1593.6 L1261.8 1595.5 L1261.8 1591.9 L1269.5 1610.5 L1269.5 1607.0 L1273.0 1615.2 L1273.0 1612.2 L1274.1 1614.9 L1274.1 1613.3 L1275.2 1616.0 L1275.2 1614.0 L1276.9 1618.1 L1276.9 1613.6 L1298.5 1665.5 L1298.5 1655.2 L1302.8 1665.6 L1302.8 1658.7 L1306.5 1667.4 L1306.5 1663.3 L1307.6 1666.0 L1307.6 1663.7 L1308.8 1666.5 L1308.8 1656.9 L1312.7 1666.4 L1312.7 1657.6 L1313.3 1658.9 L1313.3 1653.1 L1315.9 1659.4 L1315.9 1652.2 L1321.2 1665.0 L1321.2 1657.3 L1326.9 1670.9 L1326.9 1664.7 L1329.8 1671.5 L1329.8 1656.0 L1340.9 1682.8 L1340.9 1657.9 L1341.7 1659.8 L1341.7 1632.9 L1348.5 1649.3 L1348.5 1624.6 L1349.7 1627.4 L1349.7 1609.3 L1353.6 1618.9 L1353.6 1609.6 L1354.5 1611.7 L1354.5 1612.3 L1355.3 1614.2 L1355.3 1609.0 L1363.3 1628.1 L1363.3 1608.3 L1370.7 1626.0 L1370.7 1607.5 L1375.8 1619.8 L1375.8 1587.0 L1388.0 1616.1 L1388.0 1598.3 L1402.7 1633.7 L1402.7 1599.7 L1403.6 1601.9 L1403.6 1576.6 L1403.7 1572.7 L1406.1 1538.4" stroke="#58ea2c" stroke-width="7.5" fill="none" stroke-linejoin="round" stroke-linecap="round"/>
<line x1="1589.0" y1="1198.4" x2="1589.0" y2="1703" stroke="#ebebeb" stroke-width="1.6"/>
<line x1="1751.8" y1="1198.4" x2="1751.8" y2="1703" stroke="#ebebeb" stroke-width="1.6"/>
<line x1="1914.6" y1="1198.4" x2="1914.6" y2="1703" stroke="#ebebeb" stroke-width="1.6"/>
<line x1="2077.4" y1="1198.4" x2="2077.4" y2="1703" stroke="#ebebeb" stroke-width="1.6"/>
<line x1="1563.3" y1="1265.7" x2="2079" y2="1265.7" stroke="#ebebeb" stroke-width="1.6"/>
<line x1="1563.3" y1="1360.5" x2="2079" y2="1360.5" stroke="#ebebeb" stroke-width="1.6"/>
<line x1="1563.3" y1="1455.0" x2="2079" y2="1455.0" stroke="#ebebeb" stroke-width="1.6"/>
<line x1="1563.3" y1="1643.8" x2="2079" y2="1643.8" stroke="#ebebeb" stroke-width="1.6"/>
<line x1="1563.3" y1="1221.0" x2="2079" y2="1221.0" stroke="#cc2a3e" stroke-width="2" stroke-dasharray="6.6 6.5"/>
<line x1="1563.3" y1="1684.3" x2="2079" y2="1684.3" stroke="#cc2a3e" stroke-width="2" stroke-dasharray="6.6 6.5"/>
<line x1="1563.3" y1="1548.8" x2="2079" y2="1548.8" stroke="#111" stroke-width="1.8"/>
<path d="M1589.5 1520.0V1578.0M1596.6 1520.0V1578.0M1597.8 1520.0V1578.0M1600.7 1520.0V1578.0M1604.3 1520.0V1578.0M1607.8 1520.0V1578.0M1609.0 1520.0V1578.0M1610.2 1520.0V1578.0M1611.4 1520.0V1578.0M1612.6 1520.0V1578.0M1615.3 1520.0V1578.0M1617.3 1520.0V1578.0M1620.0 1520.0V1578.0M1621.2 1520.0V1578.0M1622.9 1520.0V1578.0M1627.9 1520.0V1578.0M1629.1 1520.0V1578.0M1630.3 1520.0V1578.0M1641.0 1520.0V1578.0M1654.8 1520.0V1578.0M1658.1 1520.0V1578.0M1670.8 1520.0V1578.0M1672.9 1520.0V1578.0M1674.7 1520.0V1578.0M1685.9 1520.0V1578.0M1694.8 1520.0V1578.0M1696.0 1520.0V1578.0M1697.8 1520.0V1578.0M1708.4 1520.0V1578.0M1717.9 1520.0V1578.0M1733.9 1520.0V1578.0M1736.8 1520.0V1578.0M1741.9 1520.0V1578.0M1748.7 1520.0V1578.0M1755.0 1520.0V1578.0M1772.9 1520.0V1578.0M1778.9 1520.0V1578.0M1781.2 1520.0V1578.0M1785.0 1520.0V1578.0M1786.0 1520.0V1578.0M1788.3 1520.0V1578.0M1790.1 1520.0V1578.0M1791.9 1520.0V1578.0M1807.9 1520.0V1578.0M1828.3 1520.0V1578.0M1832.3 1520.0V1578.0M1836.5 1520.0V1578.0M1846.7 1520.0V1578.0M1847.5 1520.0V1578.0M1849.3 1520.0V1578.0M1854.4 1520.0V1578.0M1870.6 1520.0V1578.0M1883.9 1520.0V1578.0M1905.8 1520.0V1578.0M1916.7 1520.0V1578.0M1917.9 1520.0V1578.0M1932.7 1520.0V1578.0M1936.5 1520.0V1578.0M1938.0 1520.0V1578.0M1939.2 1520.0V1578.0M1940.4 1520.0V1578.0M1942.2 1520.0V1578.0M1943.7 1520.0V1578.0M1947.3 1520.0V1578.0M1958.5 1520.0V1578.0M1964.4 1520.0V1578.0M1975.6 1520.0V1578.0M1979.5 1520.0V1578.0M1981.0 1520.0V1578.0M1982.4 1520.0V1578.0M1983.9 1520.0V1578.0M1986.2 1520.0V1578.0M1989.9 1520.0V1578.0M1993.9 1520.0V1578.0M2001.7 1520.0V1578.0M2004.9 1520.0V1578.0M2010.8 1520.0V1578.0M2016.2 1520.0V1578.0M2017.9 1520.0V1578.0M2037.5 1520.0V1578.0M2045.2 1520.0V1578.0M2046.1 1520.0V1578.0M2052.9 1520.0V1578.0" stroke="#333" stroke-width="1.15" fill="none"/>
<path d="M1587.4 1521.2 L1589.1 1552.1 L1589.5 1551.7 L1589.5 1526.5 L1596.6 1537.8 L1596.6 1474.1 L1597.8 1476.0 L1597.8 1455.7 L1600.7 1460.5 L1600.7 1445.5 L1604.3 1451.2 L1604.3 1436.2 L1607.8 1441.9 L1607.8 1409.3 L1609.0 1411.2 L1609.0 1365.5 L1610.2 1367.3 L1610.2 1341.4 L1611.4 1343.2 L1611.4 1328.6 L1612.6 1330.5 L1612.6 1317.6 L1615.3 1322.0 L1615.3 1307.7 L1617.3 1311.0 L1617.3 1297.1 L1620.0 1301.5 L1620.0 1288.8 L1621.2 1290.7 L1621.2 1280.9 L1622.9 1283.5 L1622.9 1267.5 L1627.9 1275.7 L1627.9 1272.4 L1629.1 1274.3 L1629.1 1253.5 L1630.3 1255.4 L1630.3 1221.3 L1641.0 1238.3 L1641.0 1226.0 L1654.8 1248.1 L1654.8 1238.5 L1658.1 1243.8 L1658.1 1244.3 L1670.8 1264.5 L1670.8 1252.2 L1672.9 1255.6 L1672.9 1243.4 L1674.7 1246.2 L1674.7 1243.1 L1685.9 1261.1 L1685.9 1256.2 L1694.8 1270.4 L1694.8 1264.8 L1696.0 1266.7 L1696.0 1260.1 L1697.8 1262.9 L1697.8 1256.7 L1708.4 1273.7 L1708.4 1268.1 L1717.9 1283.2 L1717.9 1283.1 L1733.9 1308.7 L1733.9 1308.3 L1736.8 1313.0 L1736.8 1307.0 L1741.9 1315.2 L1741.9 1316.1 L1748.7 1326.9 L1748.7 1327.1 L1755.0 1337.1 L1755.0 1341.4 L1772.9 1370.2 L1772.9 1371.9 L1778.9 1381.4 L1778.9 1378.9 L1781.2 1382.7 L1781.2 1380.8 L1785.0 1386.9 L1785.0 1385.4 L1786.0 1387.0 L1786.0 1386.0 L1788.3 1389.8 L1788.3 1388.5 L1790.1 1391.4 L1790.1 1390.3 L1791.9 1393.1 L1791.9 1392.8 L1807.9 1418.4 L1807.9 1423.3 L1828.3 1456.0 L1828.3 1458.9 L1832.3 1465.4 L1832.3 1466.3 L1836.5 1472.9 L1836.5 1477.6 L1846.7 1493.9 L1846.7 1496.6 L1847.5 1498.0 L1847.5 1498.1 L1849.3 1500.9 L1849.3 1501.1 L1854.4 1509.3 L1854.4 1512.4 L1870.6 1538.4 L1870.6 1544.2 L1883.9 1565.6 L1883.9 1569.1 L1905.8 1604.1 L1905.8 1602.4 L1916.7 1619.8 L1916.7 1616.7 L1917.9 1618.6 L1917.9 1620.4 L1932.7 1644.1 L1932.7 1644.2 L1936.5 1650.3 L1936.5 1645.0 L1938.0 1647.4 L1938.0 1644.3 L1939.2 1646.2 L1939.2 1643.6 L1940.4 1645.4 L1940.4 1642.1 L1942.2 1644.9 L1942.2 1641.2 L1943.7 1643.6 L1943.7 1639.7 L1947.3 1645.4 L1947.3 1642.0 L1958.5 1660.0 L1958.5 1657.0 L1964.4 1666.5 L1964.4 1664.9 L1975.6 1682.7 L1975.6 1674.5 L1979.5 1680.8 L1979.5 1666.9 L1981.0 1669.3 L1981.0 1662.5 L1982.4 1664.8 L1982.4 1658.3 L1983.9 1660.5 L1983.9 1651.9 L1986.2 1655.6 L1986.2 1642.9 L1989.9 1648.8 L1989.9 1633.5 L1993.9 1640.0 L1993.9 1626.3 L2001.7 1638.8 L2001.7 1632.4 L2004.9 1637.5 L2004.9 1631.2 L2010.8 1640.7 L2010.8 1625.6 L2016.2 1634.1 L2016.2 1621.9 L2017.9 1624.8 L2017.9 1616.8 L2037.5 1648.0 L2037.5 1637.0 L2045.2 1649.4 L2045.2 1618.9 L2046.1 1620.4 L2046.1 1583.0 L2052.9 1593.8 L2052.9 1557.5 L2054.4 1545.2" stroke="#58ea2c" stroke-width="7.5" fill="none" stroke-linejoin="round" stroke-linecap="round"/>
<text x="1854.8" y="67.4" font-size="27.7" fill="#000" >JAK-STAT Pathway</text>
<text x="1854.8" y="99.7" font-size="27.7" fill="#000" >NES: 1.79</text>
<text x="1854.8" y="133" font-size="27.7" fill="#000" >p-value:0.0001</text>
<text x="1619" y="414" font-size="27.7" fill="#000" >SOX2-OE</text>
<text x="2012.8" y="414" font-size="27.7" fill="#000" >shNT</text>
<text transform="translate(1542,389.5) rotate(-90)" x="0" y="0" font-size="29.2" fill="#000">Enrichment Score</text>
<text x="1534" y="578" font-size="27.5" fill="#000" >Rank</text>
<text x="1692.9" y="579" font-size="21.5" fill="#4d4d4d" text-anchor="middle">5000</text>
<text x="1803.8" y="579" font-size="21.5" fill="#4d4d4d" text-anchor="middle">10000</text>
<text x="1912.7" y="579" font-size="21.5" fill="#4d4d4d" text-anchor="middle">15000</text>
<text x="2024.9" y="579" font-size="21.5" fill="#4d4d4d" text-anchor="middle">20000</text>
<text x="1179" y="727.8" font-size="27.7" fill="#000" >JAK-STAT Pathway</text>
<text x="1179" y="760.7" font-size="27.7" fill="#000" >NES:1.21</text>
<text x="1179" y="792.8" font-size="27.7" fill="#000" >p-value:0.1</text>
<text x="988.3" y="950.7" font-size="27.7" fill="#000" >shTP53/RB1</text>
<text x="1350.5" y="950.7" font-size="27.7" fill="#000" >shNT</text>
<text transform="translate(907,1034.5) rotate(-90)" x="0" y="0" font-size="29.2" fill="#000">Enrichment Score</text>
<text x="933" y="1175.3" font-size="27.5" fill="#000" >Rank</text>
<text x="1060" y="1178.8" font-size="21.5" fill="#4d4d4d" text-anchor="middle">5000</text>
<text x="1162.8" y="1178.8" font-size="21.5" fill="#4d4d4d" text-anchor="middle">10000</text>
<text x="1261" y="1178.8" font-size="21.5" fill="#4d4d4d" text-anchor="middle">15000</text>
<text x="1367" y="1178.8" font-size="21.5" fill="#4d4d4d" text-anchor="middle">20000</text>
<text x="1769.7" y="786.7" font-size="27.7" fill="#000" >JAK-STAT Pathway</text>
<text x="1769.7" y="819.5" font-size="27.7" fill="#000" >NES:-1.67</text>
<text x="1769.7" y="852.3" font-size="27.7" fill="#000" >p-value: 0.001</text>
<text x="1546.8" y="1107.4" font-size="27.7" fill="#000" >shTP53/RB1/SOX2</text>
<text x="1957.4" y="1107.4" font-size="27.7" fill="#000" >shTP53/RB1</text>
<text transform="translate(1543,1014) rotate(-90)" x="0" y="0" font-size="29.2" fill="#000">Enrichment Score</text>
<text x="1559" y="1162.7" font-size="27.5" fill="#000" >Rank</text>
<text x="1694.5" y="1161.7" font-size="21.5" fill="#4d4d4d" text-anchor="middle">5000</text>
<text x="1797.4" y="1161.7" font-size="21.5" fill="#4d4d4d" text-anchor="middle">10000</text>
<text x="1896" y="1161.7" font-size="21.5" fill="#4d4d4d" text-anchor="middle">15000</text>
<text x="2002.2" y="1161.7" font-size="21.5" fill="#4d4d4d" text-anchor="middle">20000</text>
<text x="1179.5" y="1267.7" font-size="27.7" fill="#000" >JAK-STAT Pathway</text>
<text x="1179.5" y="1300.7" font-size="27.7" fill="#000" >NES:1.45</text>
<text x="1179.5" y="1333.3" font-size="27.7" fill="#000" >p-value:0.009</text>
<text x="980.3" y="1493.7" font-size="27.7" fill="#000" >shTP53/RB1+Enz</text>
<text x="1286" y="1493.7" font-size="27.7" fill="#000" >shNT+Veh</text>
<text transform="translate(899,1597.5) rotate(-90)" x="0" y="0" font-size="29.2" fill="#000">Enrichment Score</text>
<text x="920.9" y="1729" font-size="27.5" fill="#000" >Rank</text>
<text x="1113.2" y="1730.7" font-size="21.5" fill="#4d4d4d" text-anchor="middle">10000</text>
<text x="1263.1" y="1730.7" font-size="21.5" fill="#4d4d4d" text-anchor="middle">20000</text>
<text x="1427.5" y="1730.7" font-size="21.5" fill="#4d4d4d" text-anchor="middle">30000</text>
<text x="938" y="1237.5" font-size="10.3" fill="#222" text-anchor="end">0.3</text>
<line x1="940" y1="1234.2" x2="943.5" y2="1234.2" stroke="#222" stroke-width="1.4"/>
<text x="938" y="1341.3" font-size="10.3" fill="#222" text-anchor="end">0.2</text>
<line x1="940" y1="1338.0" x2="943.5" y2="1338.0" stroke="#222" stroke-width="1.4"/>
<text x="938" y="1444.6" font-size="10.3" fill="#222" text-anchor="end">0.1</text>
<line x1="940" y1="1441.3" x2="943.5" y2="1441.3" stroke="#222" stroke-width="1.4"/>
<text x="938" y="1547.6" font-size="10.3" fill="#222" text-anchor="end">0.0</text>
<line x1="940" y1="1544.3" x2="943.5" y2="1544.3" stroke="#222" stroke-width="1.4"/>
<text x="938" y="1650.7" font-size="10.3" fill="#222" text-anchor="end">-0.1</text>
<line x1="940" y1="1647.4" x2="943.5" y2="1647.4" stroke="#222" stroke-width="1.4"/>
<text x="1824.3" y="1253.3" font-size="27.7" fill="#000" >JAK-STAT Pathway</text>
<text x="1824.3" y="1286" font-size="27.7" fill="#000" >NES:1.34</text>
<text x="1824.3" y="1319.3" font-size="27.7" fill="#000" >p-value:0.03</text>
<text x="1606.2" y="1493.7" font-size="27.7" fill="#000" >shTP53/RB1+Enz</text>
<text x="1869" y="1493.7" font-size="27.7" fill="#000" >shTP53/RB1+Veh</text>
<text transform="translate(1506.7,1548) rotate(-90)" x="0" y="0" font-size="29.2" fill="#000">Enrichment Score</text>
<text x="1565" y="1729" font-size="27.5" fill="#000" >Rank</text>
<text x="1756.8" y="1730.7" font-size="21.5" fill="#4d4d4d" text-anchor="middle">10000</text>
<text x="1906" y="1730.7" font-size="21.5" fill="#4d4d4d" text-anchor="middle">20000</text>
<text x="2070" y="1730.7" font-size="21.5" fill="#4d4d4d" text-anchor="middle">30000</text>
<text x="1560" y="1269.5" font-size="10.3" fill="#222" text-anchor="end">0.3</text>
<line x1="1562" y1="1266.2" x2="1565.5" y2="1266.2" stroke="#222" stroke-width="1.4"/>
<text x="1560" y="1364.3" font-size="10.3" fill="#222" text-anchor="end">0.2</text>
<line x1="1562" y1="1361.0" x2="1565.5" y2="1361.0" stroke="#222" stroke-width="1.4"/>
<text x="1560" y="1458.8" font-size="10.3" fill="#222" text-anchor="end">0.1</text>
<line x1="1562" y1="1455.5" x2="1565.5" y2="1455.5" stroke="#222" stroke-width="1.4"/>
<text x="1560" y="1553.1" font-size="10.3" fill="#222" text-anchor="end">0.0</text>
<line x1="1562" y1="1549.8" x2="1565.5" y2="1549.8" stroke="#222" stroke-width="1.4"/>
<text x="1560" y="1647.6" font-size="10.3" fill="#222" text-anchor="end">-0.1</text>
<line x1="1562" y1="1644.3" x2="1565.5" y2="1644.3" stroke="#222" stroke-width="1.4"/>
</svg>
</body></html>
